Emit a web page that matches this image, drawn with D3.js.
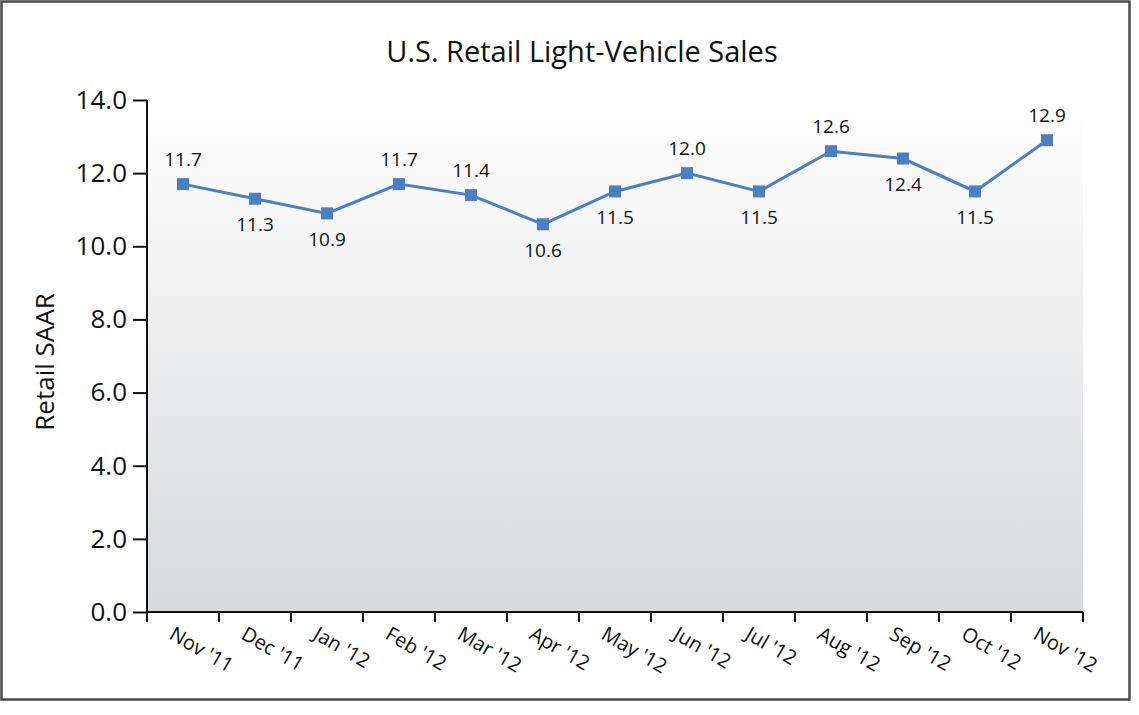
<!DOCTYPE html>
<html lang="en">
<head>
    <meta charset="UTF-8">
    <title>U.S. Retail Light-Vehicle Sales</title>
    <script src="https://d3js.org/d3.v7.min.js"></script>
    <style>
        body { margin: 0; background: #fff; }
        text { font-family: "Open Sans", Lato, sans-serif; fill: #111; }
        .line { fill: none; stroke: #4a7fc3; stroke-width: 3px; }
        .marker { fill: #4a7fc3; }
        .axis path, .axis line { stroke: #111; stroke-width: 2px; }
        .axis text { fill: #111; }
    </style>
</head>
<body>
<svg width="1139" height="715"></svg>
<script>
    // Data
    const months = ["Nov '11", "Dec '11", "Jan '12", "Feb '12", "Mar '12", "Apr '12", "May '12",
                    "Jun '12", "Jul '12", "Aug '12", "Sep '12", "Oct '12", "Nov '12"];
    const saar = [11.7, 11.3, 10.9, 11.7, 11.4, 10.6, 11.5, 12.0, 11.5, 12.6, 12.4, 11.5, 12.9];
    // label above (true) or below (false) the point
    const labelAbove = [true, false, false, true, true, false, false, true, false, true, false, false, true];
    const yTicks = [0, 2, 4, 6, 8, 10, 12, 14];

    const data = months.map((m, i) => ({ month: m, value: saar[i], above: labelAbove[i] }));

    const svg = d3.select("svg"),
        margin = { top: 100, right: 56, bottom: 103, left: 147 },
        width = +svg.attr("width") - margin.left - margin.right,
        height = +svg.attr("height") - margin.top - margin.bottom;

    // outer frame
    svg.append("rect")
        .attr("x", 1.5).attr("y", 1.5)
        .attr("width", 1128).attr("height", 698)
        .attr("fill", "#fff")
        .attr("stroke", "#4a4a4a")
        .attr("stroke-width", 2.5);

    // plot background gradient
    const grad = svg.append("defs").append("linearGradient")
        .attr("id", "bg").attr("x1", 0).attr("y1", 0).attr("x2", 0).attr("y2", 1);
    grad.append("stop").attr("offset", "0%").attr("stop-color", "#ffffff");
    grad.append("stop").attr("offset", "100%").attr("stop-color", "#d8d9db");

    const g = svg.append("g").attr("transform", `translate(${margin.left},${margin.top})`);

    g.append("rect")
        .attr("width", width).attr("height", height)
        .attr("fill", "url(#bg)");

    const x = d3.scaleBand().domain(months).range([0, width]).padding(0);
    const y = d3.scaleLinear().domain([0, 14]).range([height, 0]);

    // y axis
    const yAxis = g.append("g").attr("class", "axis")
        .call(d3.axisLeft(y).tickValues(yTicks).tickFormat(d3.format(".1f")).tickSize(14).tickPadding(6));
    yAxis.select(".domain").attr("d", `M0,${height}V0`);
    yAxis.selectAll("text").style("font-size", "26px");

    // x axis with ticks at band boundaries
    const xAxis = g.append("g").attr("class", "axis")
        .attr("transform", `translate(0,${height})`);
    xAxis.append("line").attr("x1", 0).attr("x2", width).attr("y1", 0).attr("y2", 0);
    xAxis.selectAll(".tick-b")
        .data(months.concat(["end"]))
        .join("line")
        .attr("x1", (d, i) => i < months.length ? x(d) : width)
        .attr("x2", (d, i) => i < months.length ? x(d) : width)
        .attr("y1", 0).attr("y2", 10);
    xAxis.selectAll(".xlabel")
        .data(months)
        .join("text")
        .attr("transform", d => `translate(${x(d) + x.bandwidth() / 2 - 8},${14}) rotate(30)`)
        .attr("text-anchor", "start")
        .attr("dy", "0.7em")
        .style("font-size", "20px")
        .text(d => d);

    // line
    const line = d3.line()
        .x(d => x(d.month) + x.bandwidth() / 2)
        .y(d => y(d.value));

    g.append("path").datum(data).attr("class", "line").attr("d", line);

    g.selectAll(".marker")
        .data(data)
        .join("rect")
        .attr("class", "marker")
        .attr("x", d => x(d.month) + x.bandwidth() / 2 - 6)
        .attr("y", d => y(d.value) - 6)
        .attr("width", 12).attr("height", 12);

    g.selectAll(".dlabel")
        .data(data)
        .join("text")
        .attr("x", d => x(d.month) + x.bandwidth() / 2)
        .attr("y", d => y(d.value) + (d.above ? -25 : 26))
        .attr("dy", "0.35em")
        .attr("text-anchor", "middle")
        .style("font-size", "19px")
        .text(d => d.value.toFixed(1));

    // title
    svg.append("text")
        .attr("x", 582).attr("y", 52)
        .attr("dy", "0.35em")
        .attr("text-anchor", "middle")
        .style("font-size", "29px")
        .text("U.S. Retail Light-Vehicle Sales");

    // y axis title
    svg.append("text")
        .attr("transform", `translate(45,${margin.top + height / 2 + 6}) rotate(-90)`)
        .attr("text-anchor", "middle")
        .attr("dy", "0.35em")
        .style("font-size", "26px")
        .text("Retail SAAR");
</script>
</body>
</html>
